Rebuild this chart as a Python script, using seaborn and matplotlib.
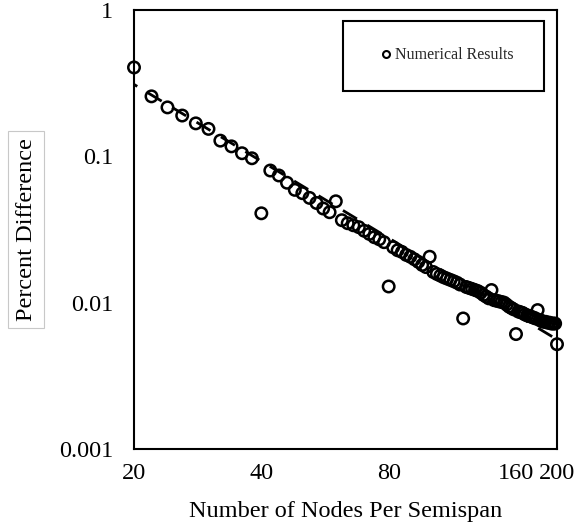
import numpy as np
import pandas as pd
import matplotlib
matplotlib.use("Agg")
import matplotlib.pyplot as plt
from matplotlib.ticker import FixedLocator, FixedFormatter, NullFormatter, NullLocator
from matplotlib.lines import Line2D
from matplotlib.patches import Rectangle
import seaborn as sns

# Nodes per semispan (even counts from 20 to 200)
nodes = list(range(20, 201, 2))

# Percent difference for each node count
pct_diff = [
    0.405, 0.257, 0.216, 0.190, 0.168, 0.154, 0.128, 0.117, 0.105, 0.097,   # 20-38
    0.0408, 0.080, 0.074, 0.066, 0.059, 0.056, 0.052, 0.048, 0.044, 0.0415, # 40-58
    0.0493, 0.0366, 0.0349, 0.0338, 0.0328, 0.0310, 0.0295, 0.0280, 0.0271, 0.0259,  # 60-78
    0.0129, 0.0239, 0.0228, 0.0222, 0.0212, 0.0206, 0.0198, 0.0190, 0.0181, 0.0175,  # 80-98
    0.0206, 0.0162, 0.0157, 0.0153, 0.0149, 0.0146, 0.0143, 0.0140, 0.0137, 0.0133,  # 100-118
    0.0078, 0.0128, 0.0126, 0.0124, 0.0122, 0.0120, 0.0117, 0.0113, 0.0110, 0.0107,  # 120-138
    0.0122, 0.0104, 0.0103, 0.0102, 0.0101, 0.0100, 0.0097, 0.0094, 0.0092, 0.0090,  # 140-158
    0.0061, 0.0087, 0.0086, 0.0085, 0.0083, 0.0082, 0.0081, 0.0080, 0.0079, 0.0078,  # 160-178
    0.0089, 0.0076, 0.0075, 0.0074, 0.0074, 0.0073, 0.0073, 0.0072, 0.0072, 0.0072,  # 180-198
    0.0052,                                                                          # 200
]

# Power-law trend line end points
trend_nodes = [20, 200]
trend_pct = [0.31, 0.0056]

x_ticks = [20, 40, 80, 160, 200]
x_tick_labels = ["20", "40", "80", "160", "200"]
x_minor = [60, 100, 120, 140, 180]
y_ticks = [0.001, 0.01, 0.1, 1]
y_tick_labels = ["0.001", "0.01", "0.1", "1"]

df = pd.DataFrame({"nodes": nodes, "pct": pct_diff})
trend = pd.DataFrame({"nodes": trend_nodes, "pct": trend_pct})

sns.set_style("white")
plt.rcParams["font.family"] = ["Liberation Serif", "DejaVu Serif"]

FS = 17.5

fig = plt.figure(figsize=(5.77, 5.31), dpi=100)
ax = fig.add_axes([134 / 577, 1 - 449 / 531, 423 / 577, 439 / 531])
ax.set_xscale("log")
ax.set_yscale("log")

# long-dash trend line, drawn beneath the open circles
sns.lineplot(data=trend, x="nodes", y="pct", ax=ax, color="black",
             linewidth=2.0, linestyle=(4.5, (5.87, 4.39)), zorder=2,
             legend=False)
sns.scatterplot(data=df, x="nodes", y="pct", ax=ax, marker="o",
                s=68, facecolor="none", edgecolor="black", linewidth=1.8,
                zorder=3, legend=False, clip_on=False)

ax.set_xlim(20, 200)
ax.set_ylim(0.001, 1)

ax.xaxis.set_major_locator(FixedLocator(x_ticks))
ax.xaxis.set_major_formatter(FixedFormatter(x_tick_labels))
ax.xaxis.set_minor_locator(FixedLocator(x_minor))
ax.xaxis.set_minor_formatter(NullFormatter())
ax.yaxis.set_major_locator(FixedLocator(y_ticks))
ax.yaxis.set_major_formatter(FixedFormatter(y_tick_labels))
ax.yaxis.set_minor_locator(NullLocator())

ax.tick_params(axis="both", which="both", direction="in", length=6,
               width=1.2, color="black", labelsize=FS, labelcolor="black")
ax.tick_params(axis="y", pad=15)
ax.tick_params(axis="x", pad=10)

for spine in ax.spines.values():
    spine.set_visible(True)
    spine.set_color("black")
    spine.set_linewidth(1.5)

ax.set_xlabel("Number of Nodes Per Semispan", fontsize=FS, color="black",
              labelpad=12)
ylab = ax.set_ylabel("Percent Difference", fontsize=FS, color="black")
ylab.set_va("center")
ylab.set_bbox(dict(boxstyle="square,pad=0.3", facecolor="white",
                   edgecolor="#c8c8c8", linewidth=0.8))
ax.yaxis.set_label_coords((26 - 134) / 423, 0.5)

# Legend box
box_x0 = (343 - 134) / 423
box_y0 = (449 - 91) / 439
box_w = (544 - 343) / 423
box_h = (91 - 21) / 439
ax.add_patch(Rectangle((box_x0, box_y0), box_w, box_h, transform=ax.transAxes,
                       facecolor="white", edgecolor="black", linewidth=1.5,
                       zorder=5))
handle = Line2D([], [], linestyle="none", marker="o", markersize=5,
                markerfacecolor="none", markeredgecolor="black",
                markeredgewidth=1.5)
leg = ax.legend([handle], ["Numerical Results"], loc="center",
                bbox_to_anchor=(box_x0 + box_w / 2 + 0.01, box_y0 + box_h / 2 + 0.002),
                frameon=False, fontsize=11.5, handlelength=0.6,
                handletextpad=0.25, borderpad=0)
leg.set_zorder(6)

fig.savefig("out.png", dpi=100, facecolor="white")
